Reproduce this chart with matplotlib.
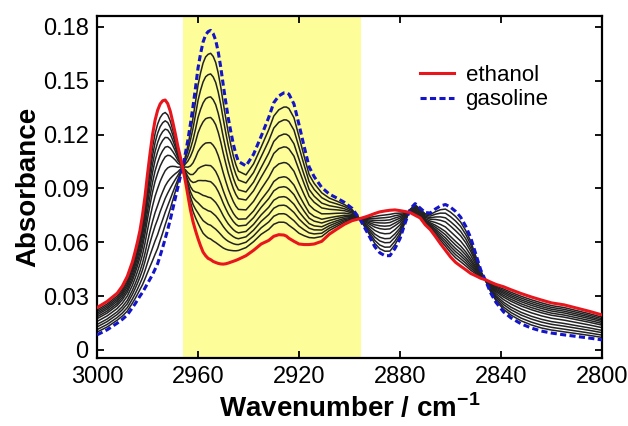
import numpy as np
import matplotlib
matplotlib.use('Agg')
import matplotlib.pyplot as plt

plt.rcParams['font.family'] = ['Liberation Sans', 'DejaVu Sans']
plt.rcParams['mathtext.fontset'] = 'custom'
plt.rcParams['mathtext.rm'] = 'Liberation Sans'
plt.rcParams['mathtext.bf'] = 'Liberation Sans:bold'

# wavenumber grid (cm-1) and the two pure spectra
wavenumber = [3000, 2996, 2992, 2990, 2988, 2986, 2985, 2984, 2983, 2982, 2981, 2980,
              2979, 2978, 2977, 2976, 2975, 2974, 2973, 2972, 2971, 2970, 2969, 2968,
              2967, 2966, 2965, 2964, 2963, 2962, 2961, 2960, 2959, 2958, 2957, 2956,
              2955, 2954, 2953, 2952, 2951, 2950, 2949, 2948, 2947, 2946, 2945, 2944,
              2941, 2938, 2935, 2932, 2930, 2928, 2926, 2925, 2924, 2922, 2920, 2918,
              2916, 2914, 2911, 2908, 2905, 2902, 2899, 2896, 2893, 2890, 2888, 2886,
              2884, 2882, 2880, 2878, 2876, 2874, 2872, 2870, 2868, 2866, 2864, 2862,
              2860, 2858, 2856, 2854, 2852, 2850, 2848, 2846, 2844, 2842, 2839, 2836,
              2832, 2828, 2824, 2820, 2815, 2810, 2805, 2800]

ethanol = [0.0236, 0.0270, 0.0316, 0.0355, 0.0410, 0.0490, 0.0543, 0.0600, 0.0665, 0.0750,
           0.0855, 0.0980, 0.1095, 0.1200, 0.1280, 0.1335, 0.1370, 0.1388, 0.1392, 0.1372,
           0.1330, 0.1270, 0.1205, 0.1135, 0.1075, 0.1010, 0.0940, 0.0860, 0.0780, 0.0715,
           0.0665, 0.0620, 0.0580, 0.0545, 0.0525, 0.0510, 0.0503, 0.0493, 0.0487, 0.0482,
           0.0479, 0.0478, 0.0480, 0.0484, 0.0489, 0.0494, 0.0499, 0.0505, 0.0525, 0.0555,
           0.0590, 0.0610, 0.0633, 0.0642, 0.0640, 0.0634, 0.0622, 0.0605, 0.0590, 0.0587,
           0.0587, 0.0590, 0.0605, 0.0645, 0.0673, 0.0700, 0.0720, 0.0731, 0.0744, 0.0760,
           0.0769, 0.0774, 0.0778, 0.0780, 0.0776, 0.0771, 0.0765, 0.0750, 0.0735, 0.0697,
           0.0670, 0.0632, 0.0592, 0.0555, 0.0518, 0.0488, 0.0467, 0.0447, 0.0426, 0.0413,
           0.0399, 0.0390, 0.0377, 0.0365, 0.0352, 0.0335, 0.0314, 0.0295, 0.0278, 0.0262,
           0.0251, 0.0233, 0.0215, 0.0195]

gasoline = [0.0084, 0.0112, 0.0149, 0.0170, 0.0195, 0.0235, 0.0255, 0.0277, 0.0300, 0.0320,
            0.0345, 0.0370, 0.0395, 0.0420, 0.0450, 0.0480, 0.0525, 0.0570, 0.0620, 0.0670,
            0.0725, 0.0785, 0.0845, 0.0905, 0.0965, 0.1020, 0.1095, 0.1170, 0.1260, 0.1355,
            0.1460, 0.1570, 0.1650, 0.1715, 0.1755, 0.1773, 0.1780, 0.1762, 0.1725, 0.1660,
            0.1575, 0.1475, 0.1380, 0.1290, 0.1215, 0.1145, 0.1090, 0.1050, 0.1025, 0.1090,
            0.1190, 0.1295, 0.1377, 0.1415, 0.1432, 0.1433, 0.1425, 0.1370, 0.1255, 0.1135,
            0.1020, 0.0965, 0.0905, 0.0868, 0.0846, 0.0822, 0.0789, 0.0731, 0.0655, 0.0575,
            0.0541, 0.0525, 0.0525, 0.0565, 0.0620, 0.0705, 0.0785, 0.0815, 0.0790, 0.0765,
            0.0763, 0.0785, 0.0802, 0.0810, 0.0795, 0.0772, 0.0740, 0.0690, 0.0625, 0.0535,
            0.0445, 0.0382, 0.0315, 0.0265, 0.0212, 0.0178, 0.0145, 0.0122, 0.0105, 0.0094,
            0.0084, 0.0075, 0.0066, 0.0056]

# gasoline fraction of the intermediate blends (black lines)
blend_fraction = [0.90, 0.81, 0.71, 0.62, 0.51, 0.41, 0.34, 0.27, 0.21, 0.15, 0.09]

wn = np.array(wavenumber)
eth = np.array(ethanol)
gas = np.array(gasoline)

fig = plt.figure(figsize=(6.28, 4.26), dpi=100)
ax = fig.add_axes([0.1545, 0.1596, 0.8041, 0.8028])

ax.axvspan(2895.5, 2966, color='#fdfd9a', lw=0, zorder=0)

for f in blend_fraction:
    ax.plot(wn, f * gas + (1 - f) * eth, color='#222222', lw=1.1, zorder=2)

ax.plot(wn, eth, color='#e8161c', lw=2.2, label='ethanol', zorder=4)
ax.plot(wn, gas, color='#1414c8', lw=2.2, ls=(0, (2, 1.1)), label='gasoline', zorder=3)

ax.set_xlim(3000, 2800)
ax.set_ylim(-0.0045, 0.186)
ax.set_xticks([3000, 2960, 2920, 2880, 2840, 2800])
ax.set_yticks([0, 0.03, 0.06, 0.09, 0.12, 0.15, 0.18])
ax.set_yticklabels(['0', '0.03', '0.06', '0.09', '0.12', '0.15', '0.18'])
ax.tick_params(direction='in', top=True, right=True, length=5, width=1.3,
               labelsize=17, pad=6)
for s in ax.spines.values():
    s.set_linewidth(1.6)

ax.set_xlabel(r'Wavenumber / cm$^{\mathbf{-1}}$', fontsize=20, fontweight='bold', labelpad=4)
ax.set_ylabel('Absorbance', fontsize=20, fontweight='bold', labelpad=1)

ax.legend(loc='upper left', bbox_to_anchor=(0.60, 0.915), frameon=False, fontsize=16,
          handlelength=1.55, handletextpad=0.5, labelspacing=0.15)

fig.savefig('out.png', dpi=100)
